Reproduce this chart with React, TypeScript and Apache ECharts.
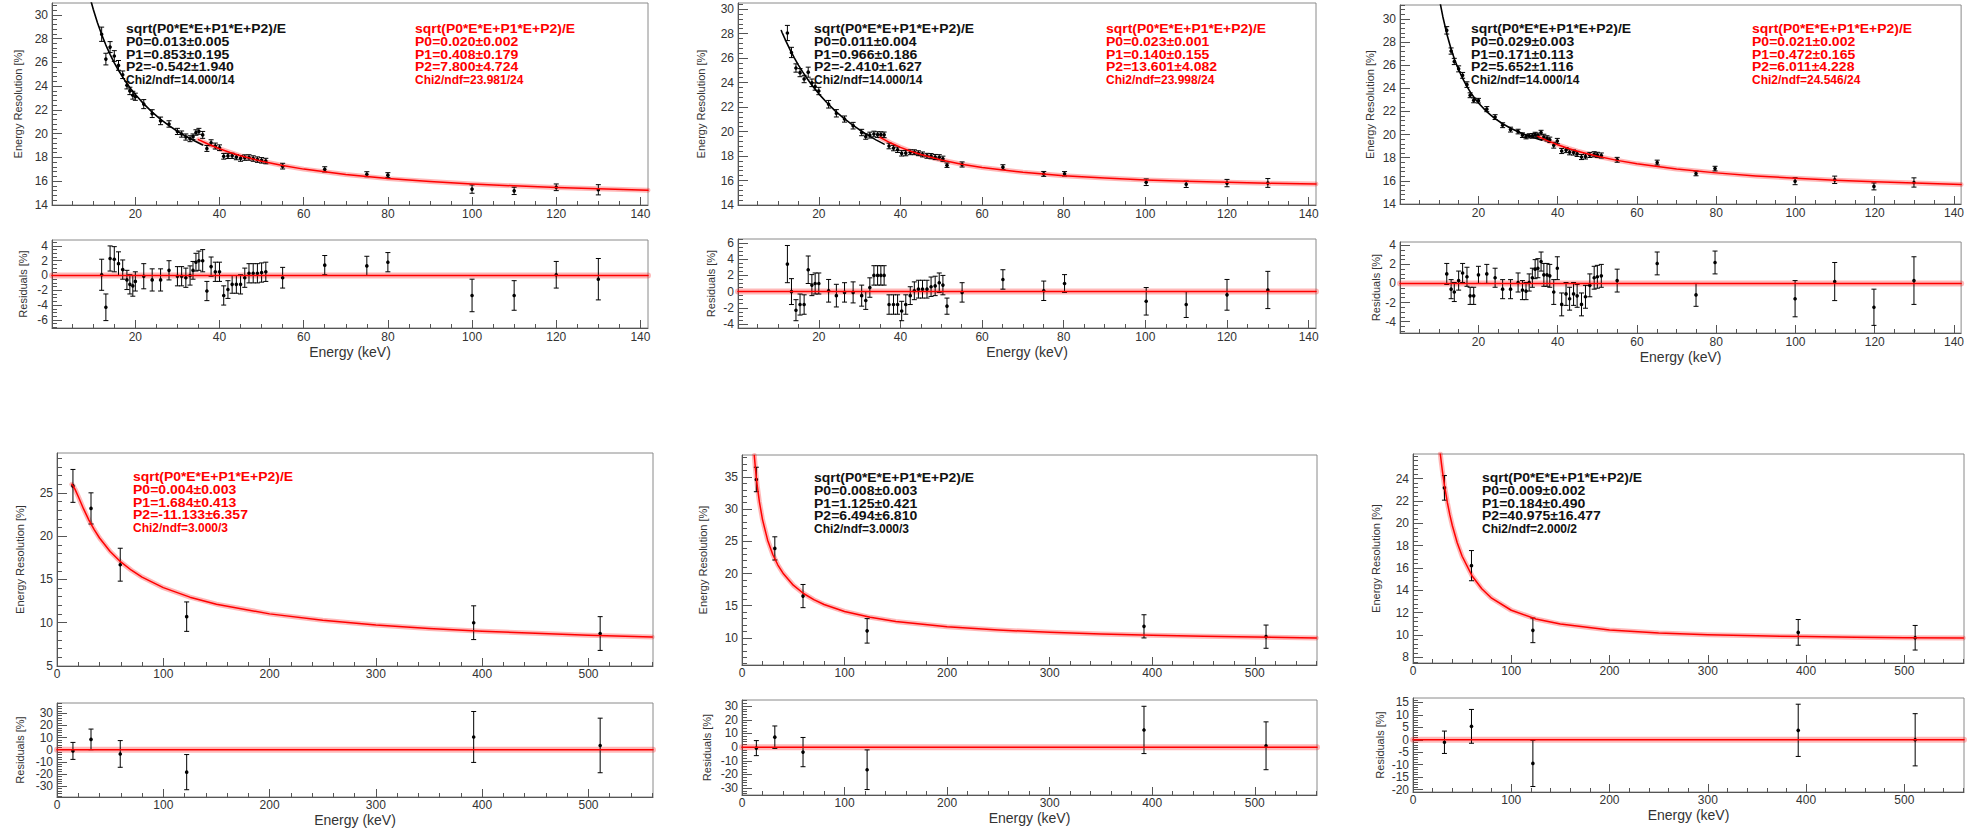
import React, { useEffect, useRef } from 'react';
import * as echarts from 'echarts';

// ---------------- Panel 1 (top left) ----------------
const P1_E = [12, 13, 14, 15, 16, 17, 18, 18.7, 19.4, 20, 22, 24, 26, 28, 30, 31, 32, 33, 33.7, 34.4, 35.1, 36, 37, 38, 39, 40, 41, 42, 43, 44, 45, 46, 47, 48, 49, 50, 51, 55, 65, 75, 80, 100, 110, 120, 130];
const P1_VAL = [28.37, 26.28, 27.29, 26.54, 25.75, 24.96, 24.08, 23.6, 23.24, 23.11, 22.49, 21.69, 21.08, 20.82, 20.19, 19.97, 19.72, 19.58, 19.75, 20.1, 20.2, 19.9, 18.76, 19.24, 18.96, 18.82, 18.1, 18.13, 18.14, 18.03, 17.92, 17.99, 18.0, 17.91, 17.82, 17.76, 17.7, 17.27, 17.0, 16.59, 16.51, 15.34, 15.19, 15.49, 15.28];
const P1_ERR = [0.6, 0.49, 0.46, 0.45, 0.41, 0.32, 0.31, 0.31, 0.33, 0.3, 0.38, 0.33, 0.32, 0.27, 0.26, 0.26, 0.26, 0.25, 0.23, 0.23, 0.25, 0.29, 0.25, 0.25, 0.25, 0.24, 0.24, 0.22, 0.22, 0.22, 0.24, 0.23, 0.23, 0.23, 0.23, 0.23, 0.23, 0.24, 0.22, 0.21, 0.21, 0.35, 0.31, 0.28, 0.43];
const P1_RES = [0.1, -4.3, 2.3, 2.2, 1.6, 0.8, -0.6, -1.2, -1.4, -0.8, -0.1, -0.6, -0.6, 0.7, -0.1, -0.1, -0.3, 0.0, 0.7, 1.8, 2.0, 2.0, -2.1, 1.2, 0.5, 0.5, -2.7, -1.9, -1.2, -1.2, -1.2, -0.3, 0.3, 0.3, 0.3, 0.4, 0.5, -0.3, 1.4, 1.3, 1.8, -2.7, -2.7, 0.1, -0.5];
const P1_RES_ERR = [2.1, 1.8, 1.7, 1.7, 1.6, 1.3, 1.3, 1.3, 1.4, 1.3, 1.7, 1.5, 1.5, 1.3, 1.3, 1.3, 1.3, 1.3, 1.2, 1.2, 1.3, 1.5, 1.3, 1.3, 1.3, 1.3, 1.3, 1.2, 1.2, 1.2, 1.3, 1.3, 1.3, 1.3, 1.3, 1.3, 1.3, 1.4, 1.3, 1.3, 1.3, 2.2, 2.0, 1.8, 2.8];
const P1_BLACK_X = [9.5, 10, 11, 12, 13, 14, 15, 16, 17, 18, 19, 20, 22, 24, 26, 28, 30, 32, 34, 36];
const P1_BLACK_Y = [31.11, 30.48, 29.34, 28.34, 27.46, 26.68, 25.97, 25.34, 24.76, 24.23, 23.75, 23.3, 22.51, 21.82, 21.21, 20.68, 20.21, 19.78, 19.4, 19.05];
const P1_RED_X = [35, 37.5, 40, 42.5, 45, 50, 55, 60, 70, 80, 90, 100, 110, 120, 130, 141.8];
const P1_RED_Y = [19.5, 19.09, 18.73, 18.42, 18.14, 17.69, 17.32, 17.02, 16.56, 16.22, 15.97, 15.77, 15.61, 15.47, 15.36, 15.25];
const P1_TEXT_BLACK = ['sqrt(P0*E*E+P1*E+P2)/E', 'P0=0.013±0.005', 'P1=0.853±0.195', 'P2=-0.542±1.940', 'Chi2/ndf=14.000/14'];
const P1_TEXT_RED = ['sqrt(P0*E*E+P1*E+P2)/E', 'P0=0.020±0.002', 'P1=0.408±0.179', 'P2=7.800±4.724', 'Chi2/ndf=23.981/24'];

// ---------------- Panel 2 (top middle) ----------------
const P2_E = [12.3, 13.3, 14.4, 15.4, 16.4, 17.4, 18.3, 19.1, 20, 22.4, 24.3, 26.3, 28.4, 30.5, 31.5, 32.5, 33.5, 34.4, 35.2, 36, 37.2, 38.3, 39.3, 40.3, 41.3, 42.4, 43.4, 44.4, 45.4, 46.5, 47.5, 48.5, 49.5, 50.4, 51.4, 55.1, 65.1, 75.1, 80.2, 100.2, 110, 120, 130];
const P2_VAL = [28.05, 26.46, 25.19, 24.81, 24.29, 24.85, 23.98, 23.68, 23.31, 22.23, 21.49, 21.02, 20.48, 19.92, 19.59, 19.71, 19.8, 19.75, 19.75, 19.73, 18.82, 18.65, 18.51, 18.22, 18.24, 18.31, 18.31, 18.23, 18.13, 18.02, 17.99, 17.92, 17.9, 17.78, 17.25, 17.31, 17.09, 16.54, 16.55, 15.86, 15.69, 15.79, 15.8];
const P2_ERR = [0.62, 0.42, 0.34, 0.33, 0.3, 0.41, 0.31, 0.3, 0.3, 0.31, 0.3, 0.25, 0.27, 0.26, 0.22, 0.24, 0.23, 0.23, 0.23, 0.23, 0.23, 0.22, 0.22, 0.22, 0.22, 0.2, 0.2, 0.2, 0.2, 0.2, 0.21, 0.21, 0.21, 0.21, 0.18, 0.21, 0.2, 0.2, 0.18, 0.27, 0.26, 0.3, 0.36];
const P2_RES = [3.4, 0.0, -2.3, -1.6, -1.6, 2.7, 0.8, 1.0, 1.0, 0.1, -0.5, -0.1, -0.1, -0.5, -1.1, 0.5, 2.0, 2.0, 2.0, 2.0, -1.6, -1.6, -1.6, -2.4, -1.6, -0.5, 0.1, 0.3, 0.3, 0.3, 0.6, 0.7, 1.1, 0.8, -1.8, -0.1, 1.5, 0.1, 1.0, -1.2, -1.6, -0.4, 0.2];
const P2_RES_ERR = [2.3, 1.6, 1.3, 1.3, 1.2, 1.7, 1.3, 1.3, 1.3, 1.4, 1.4, 1.2, 1.3, 1.3, 1.1, 1.2, 1.2, 1.2, 1.2, 1.2, 1.2, 1.2, 1.2, 1.2, 1.2, 1.1, 1.1, 1.1, 1.1, 1.1, 1.2, 1.2, 1.2, 1.2, 1.0, 1.2, 1.2, 1.2, 1.1, 1.7, 1.6, 1.9, 2.3];
const P2_BLACK_X = [10.8, 11, 12, 13, 14, 15, 16, 17, 18, 19, 20, 22, 24, 26, 28, 30, 32, 34, 36];
const P2_BLACK_Y = [28.25, 28.09, 27.34, 26.65, 26.02, 25.43, 24.89, 24.39, 23.92, 23.49, 23.08, 22.35, 21.69, 21.12, 20.6, 20.13, 19.71, 19.32, 18.97];
const P2_RED_X = [35, 37.5, 40, 42.5, 45, 50, 55, 60, 70, 80, 90, 100, 110, 120, 130, 141.8];
const P2_RED_Y = [19.52, 19.08, 18.71, 18.39, 18.12, 17.67, 17.33, 17.06, 16.67, 16.39, 16.2, 16.05, 15.94, 15.85, 15.77, 15.71];
const P2_TEXT_BLACK = ['sqrt(P0*E*E+P1*E+P2)/E', 'P0=0.011±0.004', 'P1=0.966±0.186', 'P2=-2.410±1.627', 'Chi2/ndf=14.000/14'];
const P2_TEXT_RED = ['sqrt(P0*E*E+P1*E+P2)/E', 'P0=0.023±0.001', 'P1=0.140±0.155', 'P2=13.601±4.082', 'Chi2/ndf=23.998/24'];

// ---------------- Panel 3 (top right) ----------------
const P3_E = [12, 13.1, 13.9, 15, 16, 17.1, 17.9, 18.8, 20, 22.1, 24.2, 26.1, 28.1, 30, 31.1, 32, 32.8, 33.6, 34.3, 35, 35.8, 36.5, 37.3, 38, 39, 39.9, 41, 42.1, 43, 44, 44.9, 46, 47, 48.1, 49.2, 50, 51, 55, 65.1, 74.9, 79.7, 99.9, 109.9, 119.8, 129.9];
const P3_VAL = [29.01, 27.22, 26.32, 25.68, 25.12, 24.32, 23.4, 22.96, 22.93, 22.2, 21.51, 20.81, 20.43, 20.26, 19.95, 19.81, 19.89, 19.89, 20.0, 19.93, 20.17, 19.79, 19.67, 19.55, 19.08, 19.44, 18.58, 18.66, 18.47, 18.45, 18.33, 18.06, 18.11, 18.24, 18.3, 18.25, 18.19, 17.82, 17.58, 16.64, 17.06, 15.97, 16.09, 15.52, 15.86];
const P3_ERR = [0.32, 0.27, 0.27, 0.26, 0.25, 0.24, 0.21, 0.21, 0.2, 0.22, 0.21, 0.21, 0.21, 0.2, 0.2, 0.18, 0.18, 0.2, 0.2, 0.2, 0.2, 0.24, 0.23, 0.23, 0.25, 0.23, 0.22, 0.22, 0.22, 0.22, 0.22, 0.22, 0.22, 0.22, 0.22, 0.22, 0.22, 0.21, 0.21, 0.2, 0.2, 0.3, 0.32, 0.3, 0.4];
const P3_RES = [1.0, -0.6, -0.9, 0.3, 1.1, 0.7, -1.3, -1.3, 0.9, 1.0, 0.6, -0.6, -0.6, 0.1, -0.7, -0.8, 0.1, 0.6, 1.5, 1.6, 2.3, 0.9, 0.9, 0.8, -0.9, 1.6, -2.2, -1.1, -1.6, -1.1, -1.3, -2.2, -1.4, -0.2, 0.6, 0.7, 0.8, 0.3, 2.1, -1.2, 2.2, -1.6, 0.2, -2.5, 0.3];
const P3_RES_ERR = [1.1, 1.0, 1.0, 1.0, 1.0, 1.0, 0.9, 0.9, 0.9, 1.0, 1.0, 1.0, 1.0, 1.0, 1.0, 0.9, 0.9, 1.0, 1.0, 1.0, 1.0, 1.2, 1.2, 1.2, 1.3, 1.2, 1.2, 1.2, 1.2, 1.2, 1.2, 1.2, 1.2, 1.2, 1.2, 1.2, 1.2, 1.2, 1.2, 1.2, 1.2, 1.9, 2.0, 1.9, 2.5];
const P3_BLACK_X = [10.4, 11, 12, 13, 14, 15, 16, 17, 18, 19, 20, 22, 24, 26, 28, 30, 32, 34, 36];
const P3_BLACK_Y = [31.26, 30.21, 28.72, 27.5, 26.47, 25.6, 24.85, 24.21, 23.65, 23.16, 22.73, 22.01, 21.43, 20.96, 20.57, 20.24, 19.97, 19.73, 19.52];
const P3_RED_X = [35, 37.5, 40, 42.5, 45, 50, 55, 60, 70, 80, 90, 100, 110, 120, 130, 141.8];
const P3_RED_Y = [19.85, 19.46, 19.12, 18.82, 18.56, 18.12, 17.77, 17.47, 17.02, 16.69, 16.43, 16.22, 16.06, 15.92, 15.81, 15.69];
const P3_TEXT_BLACK = ['sqrt(P0*E*E+P1*E+P2)/E', 'P0=0.029±0.003', 'P1=0.171±0.113', 'P2=5.652±1.116', 'Chi2/ndf=14.000/14'];
const P3_TEXT_RED = ['sqrt(P0*E*E+P1*E+P2)/E', 'P0=0.021±0.002', 'P1=0.472±0.165', 'P2=6.011±4.228', 'Chi2/ndf=24.546/24'];

// ---------------- Panel 4 (bottom left) ----------------
const P4_E = [15, 32, 59.5, 122, 392, 511];
const P4_VAL = [25.8, 23.2, 16.7, 10.7, 10.0, 8.75];
const P4_ERR = [1.9, 1.8, 1.9, 1.7, 1.95, 1.95];
const P4_RES = [-1, 8.5, -3.5, -18.5, 10.5, 3.5];
const P4_RES_ERR = [7, 8.5, 11, 14.5, 21, 22.5];
const P4_RED_X = [14, 15, 17, 20, 25, 30, 35, 40, 50, 60, 70, 80, 100, 125, 150, 200, 250, 300, 350, 400, 450, 500, 560];
const P4_RED_Y = [25.98, 25.84, 25.4, 24.57, 23.14, 21.85, 20.74, 19.78, 18.23, 17.02, 16.06, 15.27, 14.05, 12.95, 12.14, 11.02, 10.28, 9.74, 9.34, 9.02, 8.77, 8.56, 8.35];
const P4_TEXT_RED = ['sqrt(P0*E*E+P1*E+P2)/E', 'P0=0.004±0.003', 'P1=1.684±0.413', 'P2=-11.133±6.357', 'Chi2/ndf=3.000/3'];

// ---------------- Panel 5 (bottom middle) ----------------
const P5_E = [14, 32, 59.5, 122, 392, 511];
const P5_VAL = [34.6, 23.9, 16.5, 11.1, 11.8, 10.2];
const P5_ERR = [1.9, 1.8, 1.8, 1.9, 1.8, 1.8];
const P5_RES = [-0.7, 7.3, -3.6, -16.5, 12.6, 1.0];
const P5_RES_ERR = [5.5, 8.2, 10.7, 14.5, 17.3, 17.5];
const P5_RED_X = [12, 13, 14, 15, 17, 20, 25, 30, 35, 40, 50, 60, 70, 80, 100, 125, 150, 200, 250, 300, 350, 400, 450, 500, 560];
const P5_RED_Y = [38.32, 36.46, 34.86, 33.45, 31.09, 28.37, 25.18, 22.96, 21.32, 20.05, 18.19, 16.9, 15.94, 15.19, 14.11, 13.2, 12.57, 11.74, 11.23, 10.87, 10.61, 10.42, 10.26, 10.14, 10.01];
const P5_TEXT_BLACK = ['sqrt(P0*E*E+P1*E+P2)/E', 'P0=0.008±0.003', 'P1=1.125±0.421', 'P2=6.494±6.810', 'Chi2/ndf=3.000/3'];

// ---------------- Panel 6 (bottom right) ----------------
const P6_E = [32, 59.5, 122, 392, 511];
const P6_VAL = [23.17, 16.21, 10.42, 10.24, 9.76];
const P6_ERR = [1.1, 1.35, 1.1, 1.15, 1.1];
const P6_RES = [-1, 5.4, -9.5, 3.8, 0];
const P6_RES_ERR = [4.5, 6.8, 9.3, 10.5, 10.5];
const P6_RED_X = [27.8, 28.9, 30, 32, 35, 37.5, 40, 45, 50, 60, 70, 80, 100, 125, 150, 200, 250, 300, 350, 400, 450, 500, 560];
const P6_RED_Y = [26.2, 25.38, 24.63, 23.4, 21.84, 20.75, 19.8, 18.26, 17.05, 15.31, 14.14, 13.3, 12.22, 11.44, 10.98, 10.46, 10.19, 10.03, 9.93, 9.86, 9.8, 9.76, 9.73];
const P6_TEXT_BLACK = ['sqrt(P0*E*E+P1*E+P2)/E', 'P0=0.009±0.002', 'P1=0.184±0.490', 'P2=40.975±16.477', 'Chi2/ndf=2.000/2'];

// ---------------- Axis tick labels ----------------
const TOP_X_LABELS = [20, 40, 60, 80, 100, 120, 140];
const BOT_X_LABELS = [0, 100, 200, 300, 400, 500];
const TOP_MAIN_Y_LABELS = [14, 16, 18, 20, 22, 24, 26, 28, 30];
const R1_Y_LABELS = [-6, -4, -2, 0, 2, 4];
const R2_Y_LABELS = [-4, -2, 0, 2, 4, 6];
const R3_Y_LABELS = [-4, -2, 0, 2, 4];
const B1_Y_LABELS = [5, 10, 15, 20, 25];
const B2_Y_LABELS = [10, 15, 20, 25, 30, 35];
const B3_Y_LABELS = [8, 10, 12, 14, 16, 18, 20, 22, 24];
const R4_Y_LABELS = [-30, -20, -10, 0, 10, 20, 30];
const R5_Y_LABELS = [-30, -20, -10, 0, 10, 20, 30];
const R6_Y_LABELS = [-20, -15, -10, -5, 0, 5, 10, 15];

const FONT = '"Liberation Sans", Arial, Helvetica, sans-serif';
const RED = '#ff0000';
const HALO = 'rgba(255,0,0,0.28)';

function steps(min: number, max: number, step: number) {
  const out: number[] = [];
  const k0 = Math.ceil(min / step - 1e-9);
  for (let k = k0; k * step <= max + 1e-9; k++) out.push(+(k * step).toFixed(6));
  return out;
}

function zip3(a: number[], b: number[], c: number[]) {
  return a.map((v, i) => [v, b[i], c[i]]);
}
function zip2(a: number[], b: number[]) {
  return a.map((v, i) => [v, b[i]]);
}

type PanelDef = {
  box: [number, number, number, number];
  x: [number, number];
  xLabels: number[];
  xMinor: number;
  xLabelMargin: number;
  y: [number, number];
  yLabels: number[];
  yMinor: number;
  yName: string;
  yNameGap: number;
  xName?: string;
  xNameGap?: number;
  points: number[][];
  black?: number[][];
  red?: number[][];
  zeroLine?: boolean;
};

const TOP_X: [number, number] = [0.2, 141.8];
const BOT_X: [number, number] = [0, 560.7];

const PANELS: PanelDef[] = [
  // top row, main
  { box: [52, 3, 596, 202], x: TOP_X, xLabels: TOP_X_LABELS, xMinor: 5, xLabelMargin: 3, y: [14, 31], yLabels: TOP_MAIN_Y_LABELS, yMinor: 0.4, yName: 'Energy Resolution [%]', yNameGap: 29,
    points: zip3(P1_E, P1_VAL, P1_ERR), black: zip2(P1_BLACK_X, P1_BLACK_Y), red: zip2(P1_RED_X, P1_RED_Y) },
  { box: [738, 3, 578, 202], x: TOP_X, xLabels: TOP_X_LABELS, xMinor: 5, xLabelMargin: 3, y: [14, 30.5], yLabels: TOP_MAIN_Y_LABELS, yMinor: 0.4, yName: 'Energy Resolution [%]', yNameGap: 32,
    points: zip3(P2_E, P2_VAL, P2_ERR), black: zip2(P2_BLACK_X, P2_BLACK_Y), red: zip2(P2_RED_X, P2_RED_Y) },
  { box: [1400, 5, 562, 199], x: TOP_X, xLabels: TOP_X_LABELS, xMinor: 5, xLabelMargin: 3, y: [14, 31.2], yLabels: TOP_MAIN_Y_LABELS, yMinor: 0.4, yName: 'Energy Resolution [%]', yNameGap: 25,
    points: zip3(P3_E, P3_VAL, P3_ERR), black: zip2(P3_BLACK_X, P3_BLACK_Y), red: zip2(P3_RED_X, P3_RED_Y) },
  // top row, residuals
  { box: [52, 240, 596, 88], x: TOP_X, xLabels: TOP_X_LABELS, xMinor: 5, xLabelMargin: 3, y: [-7.1, 4.8], yLabels: R1_Y_LABELS, yMinor: 0.5, yName: 'Residuals [%]', yNameGap: 24, xName: 'Energy (keV)', xNameGap: 17,
    points: zip3(P1_E, P1_RES, P1_RES_ERR), zeroLine: true },
  { box: [738, 239, 578, 89], x: TOP_X, xLabels: TOP_X_LABELS, xMinor: 5, xLabelMargin: 3, y: [-4.5, 6.5], yLabels: R2_Y_LABELS, yMinor: 0.5, yName: 'Residuals [%]', yNameGap: 22, xName: 'Energy (keV)', xNameGap: 17,
    points: zip3(P2_E, P2_RES, P2_RES_ERR), zeroLine: true },
  { box: [1400, 242, 562, 91], x: TOP_X, xLabels: TOP_X_LABELS, xMinor: 5, xLabelMargin: 3, y: [-5.2, 4.35], yLabels: R3_Y_LABELS, yMinor: 0.5, yName: 'Residuals [%]', yNameGap: 16, xName: 'Energy (keV)', xNameGap: 17,
    points: zip3(P3_E, P3_RES, P3_RES_ERR), zeroLine: true },
  // bottom row, main
  { box: [57, 453, 596, 213], x: BOT_X, xLabels: BOT_X_LABELS, xMinor: 20, xLabelMargin: 2, y: [5, 29.6], yLabels: B1_Y_LABELS, yMinor: 1, yName: 'Energy Resolution [%]', yNameGap: 32,
    points: zip3(P4_E, P4_VAL, P4_ERR), red: zip2(P4_RED_X, P4_RED_Y) },
  { box: [742, 455, 575, 210], x: BOT_X, xLabels: BOT_X_LABELS, xMinor: 20, xLabelMargin: 2, y: [5.8, 38.4], yLabels: B2_Y_LABELS, yMinor: 1, yName: 'Energy Resolution [%]', yNameGap: 34,
    points: zip3(P5_E, P5_VAL, P5_ERR), red: zip2(P5_RED_X, P5_RED_Y) },
  { box: [1413, 454, 551, 209], x: BOT_X, xLabels: BOT_X_LABELS, xMinor: 20, xLabelMargin: 2, y: [7.5, 26.2], yLabels: B3_Y_LABELS, yMinor: 0.4, yName: 'Energy Resolution [%]', yNameGap: 32,
    points: zip3(P6_E, P6_VAL, P6_ERR), red: zip2(P6_RED_X, P6_RED_Y) },
  // bottom row, residuals
  { box: [57, 703, 596, 96], x: BOT_X, xLabels: BOT_X_LABELS, xMinor: 20, xLabelMargin: 2, y: [-39, 38.5], yLabels: R4_Y_LABELS, yMinor: 2, yName: 'Residuals [%]', yNameGap: 32, xName: 'Energy (keV)', xNameGap: 16,
    points: zip3(P4_E, P4_RES, P4_RES_ERR), zeroLine: true },
  { box: [742, 700, 575, 95], x: BOT_X, xLabels: BOT_X_LABELS, xMinor: 20, xLabelMargin: 2, y: [-35, 34.5], yLabels: R5_Y_LABELS, yMinor: 2, yName: 'Residuals [%]', yNameGap: 30, xName: 'Energy (keV)', xNameGap: 16,
    points: zip3(P5_E, P5_RES, P5_RES_ERR), zeroLine: true },
  { box: [1413, 698, 551, 94], x: BOT_X, xLabels: BOT_X_LABELS, xMinor: 20, xLabelMargin: 2, y: [-21, 16.8], yLabels: R6_Y_LABELS, yMinor: 1, yName: 'Residuals [%]', yNameGap: 28, xName: 'Energy (keV)', xNameGap: 16,
    points: zip3(P6_E, P6_RES, P6_RES_ERR), zeroLine: true },
];

const TEXTS: { x: number; y: number; lines: string[]; color: string }[] = [
  { x: 126, y: 23, lines: P1_TEXT_BLACK, color: '#111' },
  { x: 415, y: 23, lines: P1_TEXT_RED, color: RED },
  { x: 814, y: 23, lines: P2_TEXT_BLACK, color: '#111' },
  { x: 1106, y: 23, lines: P2_TEXT_RED, color: RED },
  { x: 1471, y: 23, lines: P3_TEXT_BLACK, color: '#111' },
  { x: 1752, y: 23, lines: P3_TEXT_RED, color: RED },
  { x: 133, y: 471, lines: P4_TEXT_RED, color: RED },
  { x: 814, y: 472, lines: P5_TEXT_BLACK, color: '#111' },
  { x: 1482, y: 472, lines: P6_TEXT_BLACK, color: '#111' },
];

function errorBarSeries(idx: number, data: number[][]) {
  return {
    type: 'custom',
    xAxisIndex: idx,
    yAxisIndex: idx,
    clip: true,
    z: 4,
    silent: true,
    encode: { x: 0, y: 1 },
    data,
    renderItem: (_p: any, api: any) => {
      const x = api.value(0);
      const y = api.value(1);
      const e = api.value(2);
      const c = api.coord([x, y]);
      const t = api.coord([x, y + e]);
      const b = api.coord([x, y - e]);
      const cap = 2.5;
      const st = { stroke: '#000', lineWidth: 1 };
      return {
        type: 'group',
        children: [
          { type: 'line', shape: { x1: c[0], y1: t[1], x2: c[0], y2: b[1] }, style: st },
          { type: 'line', shape: { x1: c[0] - cap, y1: t[1], x2: c[0] + cap, y2: t[1] }, style: st },
          { type: 'line', shape: { x1: c[0] - cap, y1: b[1], x2: c[0] + cap, y2: b[1] }, style: st },
          { type: 'circle', shape: { cx: c[0], cy: c[1], r: 1.8 }, style: { fill: '#000' } },
        ],
      };
    },
  };
}

function curveSeries(idx: number, data: number[][], color: string, width: number, z: number) {
  return {
    type: 'line',
    xAxisIndex: idx,
    yAxisIndex: idx,
    data,
    showSymbol: false,
    symbol: 'none',
    smooth: false,
    clip: true,
    silent: true,
    z,
    lineStyle: { color, width, join: 'round', cap: 'round' },
  };
}

// horizontal stretch for each text line type (sqrt line, parameter lines, chi2 line)
function lineScale(line: string) {
  if (line.startsWith('sqrt')) return 1.16;
  if (line.startsWith('Chi2')) return 1.0;
  return 1.17;
}

function buildOption() {
  const grid: any[] = [];
  const xAxis: any[] = [];
  const yAxis: any[] = [];
  const series: any[] = [];
  const labelStyle = { fontFamily: FONT, fontSize: 12, color: '#333' };

  PANELS.forEach((p, g) => {
    grid.push({
      left: p.box[0], top: p.box[1], width: p.box[2], height: p.box[3],
      show: true, borderColor: '#8a8a8a', borderWidth: 1, backgroundColor: 'transparent',
    });
    const main = xAxis.length;
    xAxis.push({
      type: 'value', gridIndex: g, min: p.x[0], max: p.x[1], position: 'bottom',
      axisLine: { show: true, onZero: false, lineStyle: { color: '#555', width: 1 } },
      axisTick: { show: true, inside: true, length: 8, customValues: p.xLabels, lineStyle: { color: '#555' } },
      axisLabel: { ...labelStyle, margin: p.xLabelMargin, customValues: p.xLabels },
      splitLine: { show: false },
      name: p.xName || '', nameLocation: 'middle', nameGap: p.xNameGap || 0,
      nameTextStyle: { fontFamily: FONT, fontSize: 14, color: '#333' },
    });
    xAxis.push({
      type: 'value', gridIndex: g, min: p.x[0], max: p.x[1], position: 'bottom',
      axisLine: { show: false, onZero: false },
      axisTick: { show: true, inside: true, length: 4, customValues: steps(p.x[0], p.x[1], p.xMinor), lineStyle: { color: '#555' } },
      axisLabel: { show: false },
      splitLine: { show: false },
    });
    yAxis.push({
      type: 'value', gridIndex: g, min: p.y[0], max: p.y[1], position: 'left',
      axisLine: { show: true, onZero: false, lineStyle: { color: '#555', width: 1 } },
      axisTick: { show: true, inside: true, length: 10, customValues: p.yLabels, lineStyle: { color: '#555' } },
      axisLabel: { ...labelStyle, margin: 4, customValues: p.yLabels },
      splitLine: { show: false },
      name: p.yName, nameLocation: 'middle', nameGap: p.yNameGap, nameRotate: 90,
      nameTextStyle: { fontFamily: FONT, fontSize: 11, color: '#333' },
    });
    yAxis.push({
      type: 'value', gridIndex: g, min: p.y[0], max: p.y[1], position: 'left',
      axisLine: { show: false, onZero: false },
      axisTick: { show: true, inside: true, length: 5, customValues: steps(p.y[0], p.y[1], p.yMinor), lineStyle: { color: '#555' } },
      axisLabel: { show: false },
      splitLine: { show: false },
    });

    series.push(errorBarSeries(main, p.points));
    if (p.red) {
      series.push(curveSeries(main, p.red, HALO, 5, 2));
      series.push(curveSeries(main, p.red, RED, 1.5, 6));
    }
    if (p.black) {
      series.push(curveSeries(main, p.black, '#000', 1.6, 5));
    }
    if (p.zeroLine) {
      const zl = [[p.x[0], 0], [p.x[1], 0]];
      series.push(curveSeries(main, zl, HALO, 6, 2));
      series.push(curveSeries(main, zl, RED, 1.5, 6));
    }
  });

  const graphic: any[] = [];
  TEXTS.forEach((t) => {
    t.lines.forEach((line, i) => {
      graphic.push({
        type: 'text',
        x: t.x,
        y: t.y + i * 12.7,
        scaleX: lineScale(line),
        z: 100,
        silent: true,
        style: {
          text: line,
          fill: t.color,
          fontFamily: FONT,
          fontSize: 12,
          fontWeight: 'bold',
          verticalAlign: 'top',
        },
      });
    });
  });

  return {
    animation: false,
    backgroundColor: '#ffffff',
    grid,
    xAxis,
    yAxis,
    series,
    graphic,
  };
}

export default function App() {
  const ref = useRef<HTMLDivElement>(null);
  useEffect(() => {
    if (!ref.current) return;
    const chart = echarts.init(ref.current, undefined, { renderer: 'svg' });
    chart.setOption(buildOption() as any);
    return () => chart.dispose();
  }, []);
  return (
    <div
      ref={ref}
      style={{ position: 'absolute', left: 0, top: 0, width: 1967, height: 828, background: '#fff' }}
    />
  );
}
